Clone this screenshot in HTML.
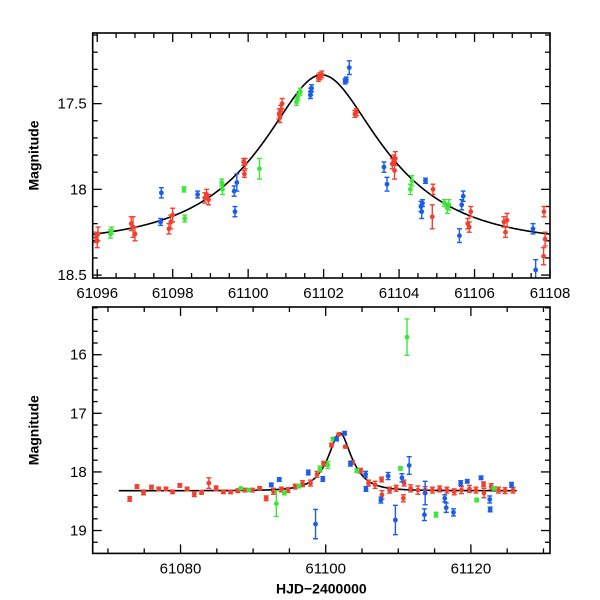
<!DOCTYPE html>
<html><head><meta charset="utf-8"><style>
html,body{margin:0;padding:0;background:#fff;}
svg{display:block;}
text{font-family:"Liberation Sans",sans-serif;fill:#000;}
</style></head><body>
<svg id="chart" width="600" height="600" viewBox="0 0 600 600" xmlns="http://www.w3.org/2000/svg"></svg>
<script>
// ---- data (HJD-2400000, magnitude, error) ----
const topRedT=[61095.97,61096.0,61096.02,61096.9,61096.95,61097.0,61097.9,61097.95,61098.0,61098.85,61098.9,61098.95,61099.88,61099.92,61099.9,61100.82,61100.86,61100.9,61100.84,61101.86,61101.9,61101.95,61102.83,61102.87,61103.82,61103.86,61103.88,61103.9,61104.9,61104.88,61105.82,61105.86,61105.9,61106.78,61106.82,61106.86,61107.84,61107.87,61107.83];
const topRedM=[18.28,18.3,18.26,18.2,18.22,18.26,18.23,18.19,18.15,18.05,18.03,18.06,17.84,17.85,17.91,17.56,17.54,17.5,17.58,17.35,17.34,17.33,17.56,17.55,17.85,17.83,17.89,17.82,18.0,18.16,18.2,18.22,18.13,18.19,18.25,18.18,18.13,18.29,18.39];
const topRedE=[0.03,0.04,0.04,0.04,0.06,0.04,0.03,0.04,0.04,0.03,0.03,0.03,0.02,0.03,0.02,0.03,0.03,0.03,0.03,0.02,0.02,0.02,0.02,0.02,0.03,0.03,0.05,0.04,0.03,0.07,0.03,0.03,0.03,0.03,0.03,0.04,0.03,0.04,0.05];
const topGrnT=[61096.35,61096.38,61098.3,61098.32,61099.3,61099.32,61100.3,61101.28,61101.32,61101.38,61104.3,61104.34,61105.2,61105.28,61105.32];
const topGrnM=[18.26,18.24,18.0,18.17,17.96,18.0,17.88,17.49,17.46,17.43,18.0,17.95,18.08,18.11,18.09];
const topGrnE=[0.025,0.02,0.015,0.02,0.02,0.03,0.06,0.02,0.02,0.02,0.03,0.03,0.02,0.03,0.03];
const topBluT=[61097.7,61097.68,61098.66,61099.63,61099.7,61099.65,61101.65,61101.68,61101.66,61102.57,61102.6,61102.68,61103.6,61103.68,61104.58,61104.62,61104.6,61104.7,61105.6,61105.66,61105.7,61107.55,61107.62];
const topBluM=[18.02,18.19,18.03,18.01,17.96,18.13,17.45,17.41,17.43,17.37,17.36,17.29,17.87,17.97,18.1,18.08,18.13,17.95,18.27,18.09,18.04,18.23,18.47];
const topBluE=[0.03,0.02,0.02,0.03,0.05,0.03,0.02,0.02,0.02,0.015,0.015,0.04,0.03,0.04,0.03,0.02,0.04,0.015,0.04,0.03,0.03,0.03,0.06];
const botRedT=[61073.0,61074.0,61074.9,61076.0,61077.0,61078.0,61078.9,61079.9,61080.9,61081.9,61082.9,61083.9,61084.9,61085.9,61086.9,61087.9,61088.9,61089.9,61090.9,61091.8,61092.8,61093.9,61094.8,61095.8,61096.8,61097.9,61098.8,61099.7,61100.8,61101.8,61102.7,61103.7,61104.8,61105.9,61106.8,61107.7,61107.75,61108.8,61109.7,61110.7,61110.8,61111.7,61112.7,61113.7,61114.7,61115.7,61116.7,61117.7,61118.7,61119.8,61120.7,61121.8,61121.75,61122.8,61123.8,61124.7,61125.8];
const botRedM=[18.46,18.25,18.35,18.26,18.29,18.29,18.34,18.23,18.29,18.38,18.35,18.19,18.28,18.34,18.34,18.32,18.31,18.31,18.28,18.45,18.33,18.3,18.31,18.25,18.2,18.19,18.04,17.86,17.54,17.36,17.57,17.84,17.98,18.19,18.22,18.13,18.39,18.31,18.28,18.45,18.19,18.28,18.31,18.31,18.31,18.29,18.31,18.34,18.31,18.29,18.31,18.36,18.21,18.25,18.31,18.32,18.31];
const botRedE=[0.04,0.03,0.04,0.03,0.03,0.03,0.03,0.03,0.03,0.04,0.03,0.09,0.04,0.03,0.03,0.03,0.03,0.03,0.03,0.04,0.05,0.04,0.04,0.04,0.05,0.05,0.05,0.04,0.03,0.02,0.02,0.03,0.04,0.05,0.06,0.04,0.07,0.05,0.05,0.06,0.05,0.06,0.07,0.06,0.05,0.05,0.05,0.05,0.06,0.06,0.05,0.08,0.04,0.05,0.05,0.05,0.05];
const botGrnT=[61088.3,61089.4,61093.2,61094.3,61096.3,61099.2,61100.3,61101,61104.3,61110.3,61111.2,61115.2,61120.8,61123.2];
const botGrnM=[18.28,18.31,18.54,18.36,18.24,17.95,17.88,17.44,17.98,17.94,15.7,18.73,18.48,18.28];
const botGrnE=[0.02,0.02,0.22,0.03,0.03,0.05,0.06,0.03,0.03,0.03,0.31,0.04,0.03,0.03];
const botBluT=[61092.5,61093.6,61097.6,61098.6,61099.6,61101.5,61102.6,61103.4,61105.5,61105.55,61107.6,61108.6,61109.6,61110.5,61111.5,61113.6,61113.7,61116.4,61116.6,61117.6,61118.6,61119.5,61121.4,61122.6,61122.65,61125.6];
const botBluM=[18.22,18.13,18.01,18.89,18.12,17.44,17.34,17.86,18.04,18.29,18.48,18.07,18.82,18.1,17.89,18.73,18.36,18.45,18.61,18.69,18.19,18.16,18.1,18.47,18.64,18.22];
const botBluE=[0.03,0.03,0.04,0.25,0.04,0.03,0.03,0.04,0.05,0.04,0.05,0.06,0.25,0.07,0.15,0.1,0.2,0.06,0.08,0.06,0.04,0.03,0.03,0.06,0.04,0.04];
// model (Paczynski) parameters
const modelT0=[61101.95], modelU0=[0.43], modelTE=[3.0], modelBase=[18.32];
const topXTicks=[61096,61098,61100,61102,61104,61106,61108];
const topYTicks=[17.5,18,18.5];
const botXTicks=[61080,61100,61120];
const botYTicks=[16,17,18,19];

const NS="http://www.w3.org/2000/svg";
const svg=document.getElementById('chart');
function mk(tag,attrs,parent){const e=document.createElementNS(NS,tag);for(const k in attrs)e.setAttribute(k,attrs[k]);(parent||svg).appendChild(e);return e;}
function modelMag(t){const u=Math.sqrt(modelU0[0]*modelU0[0]+Math.pow((t-modelT0[0])/modelTE[0],2));const A=(u*u+2)/(u*Math.sqrt(u*u+4));return modelBase[0]-2.5*Math.log10(A);}
const COL={r:'#f0412f',g:'#3ee63a',b:'#1b5ce8'};

function panel(name,box,xr,yr,xTicks,yTicks,xMinor,yMinor,xFmt,yFmt,series,mRange,xLabel){
  const g=mk('g',{});
  
  
  const X=t=>box.x0+(t-xr[0])/(xr[1]-xr[0])*(box.x1-box.x0);
  const Y=m=>box.y0+(m-yr[0])/(yr[1]-yr[0])*(box.y1-box.y0);
  const clip='clip-'+name;
  const cp=mk('clipPath',{id:clip},g);mk('rect',{x:box.x0,y:box.y0,width:box.x1-box.x0,height:box.y1-box.y0},cp);
  const tg=mk('g',{stroke:'#000','stroke-width':1.3},g);
  for(let v=Math.ceil(xr[0]/xMinor)*xMinor;v<=xr[1]+1e-9;v+=xMinor){
    const major=xTicks.some(t=>Math.abs(t-v)<1e-6);const L=major?9:5;
    mk('line',{x1:X(v),x2:X(v),y1:box.y1,y2:box.y1-L},tg);mk('line',{x1:X(v),x2:X(v),y1:box.y0,y2:box.y0+L},tg);
  }
  for(let v=Math.ceil(yr[0]/yMinor)*yMinor;v<=yr[1]+1e-9;v+=yMinor){
    const major=yTicks.some(t=>Math.abs(t-v)<1e-6);const L=major?9:5;
    mk('line',{y1:Y(v),y2:Y(v),x1:box.x0,x2:box.x0+L},tg);mk('line',{y1:Y(v),y2:Y(v),x1:box.x1,x2:box.x1-L},tg);
  }
  xTicks.forEach(v=>{const t=mk('text',{x:X(v),y:box.y1+20,'text-anchor':'middle','font-size':15},g);t.textContent=xFmt(v);
    
    });
  yTicks.forEach(v=>{const t=mk('text',{x:box.x0-6,y:Y(v)+5,'text-anchor':'end','font-size':15},g);t.textContent=yFmt(v);
    
    });
  const yl=mk('text',{x:0,y:0,'text-anchor':'middle','font-size':14,'font-weight':'bold',transform:`translate(${box.x0-54},${(box.y0+box.y1)/2}) rotate(-90)`},g);yl.textContent='Magnitude';
  
  
  if(xLabel){const xl=mk('text',{x:(box.x0+box.x1)/2,y:box.y1+40,'text-anchor':'middle','font-size':14,'font-weight':'bold'},g);xl.textContent=xLabel;
    
    }
  let d='';const n=400;
  for(let i=0;i<=n;i++){const t=mRange[0]+(mRange[1]-mRange[0])*i/n;d+=(i?'L':'M')+X(t).toFixed(2)+','+Y(modelMag(t)).toFixed(2);}
  const mc=mk('path',{d:d,fill:'none',stroke:'#000','stroke-width':1.6,'clip-path':`url(#${clip})`},g);
  
  
  series.forEach(s=>{
    const sg=mk('g',{'clip-path':`url(#${clip})`,stroke:COL[s.c],fill:COL[s.c],'stroke-width':1.4},g);
    
    
    s.t.forEach((t,i)=>{
      const x=X(t),y=Y(s.m[i]),y1=Y(s.m[i]-s.e[i]),y2=Y(s.m[i]+s.e[i]);
      mk('line',{x1:x,x2:x,y1:y1,y2:y2},sg);mk('line',{x1:x-2.5,x2:x+2.5,y1:y1,y2:y1},sg);mk('line',{x1:x-2.5,x2:x+2.5,y1:y2,y2:y2},sg);
      const c=mk('circle',{cx:x,cy:y,r:2.4,stroke:'none'},sg);
      
      
    });
  });
  const fr=mk('rect',{x:box.x0,y:box.y0,width:box.x1-box.x0,height:box.y1-box.y0,fill:'none',stroke:'#000','stroke-width':1.6},g);
  
  
}
panel('top-panel',{x0:92.7,x1:550,y0:33,y1:278},[61095.88,61108],[17.088,18.517],topXTicks,topYTicks,0.5,0.1,v=>String(v),v=>String(v),
  [{name:'red-series-zoom',c:'r',t:topRedT,m:topRedM,e:topRedE},{name:'green-series-zoom',c:'g',t:topGrnT,m:topGrnM,e:topGrnE},{name:'blue-series-zoom',c:'b',t:topBluT,m:topBluM,e:topBluE}],
  [61095.88,61108],null);
panel('bottom-panel',{x0:92.7,x1:550,y0:307,y1:553.4},[61067.9,61130.9],[15.186,19.39],botXTicks,botYTicks,5,0.2,v=>String(v),v=>String(v),
  [{name:'red-series-full',c:'r',t:botRedT,m:botRedM,e:botRedE},{name:'green-series-full',c:'g',t:botGrnT,m:botGrnM,e:botGrnE},{name:'blue-series-full',c:'b',t:botBluT,m:botBluM,e:botBluE}],
  [61071.5,61126.3],'HJD\u22122400000');
</script>
</body></html>
